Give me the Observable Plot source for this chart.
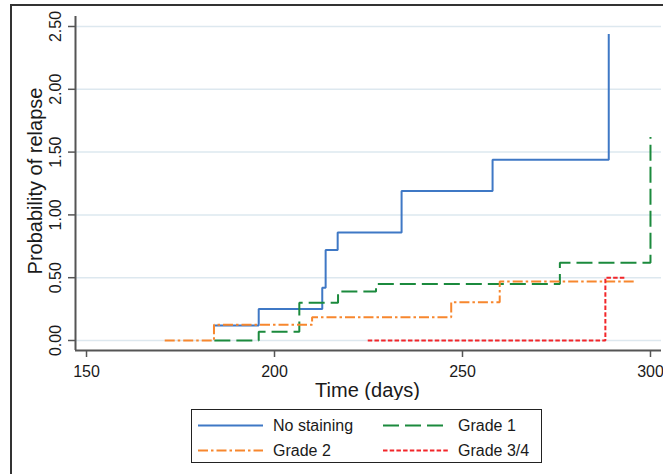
<!DOCTYPE html>
<html>
<head>
<meta charset="utf-8">
<script src="https://cdn.jsdelivr.net/npm/d3@7"></script>
<script src="https://cdn.jsdelivr.net/npm/@observablehq/plot@0.6"></script>
<style>
  html, body { margin: 0; padding: 0; background: #fff; }
  #wrap { position: relative; width: 663px; height: 474px; overflow: hidden; font-family: "Liberation Sans", Arial, sans-serif; }
  #frame { position: absolute; left: 10px; top: 4px; right: -10px; bottom: -10px; border-top: 2px solid #333; border-left: 2px solid #333; pointer-events: none; }
  #legend { position: absolute; left: 191px; top: 409px; width: 351px; height: 54px; border: 1.5px solid #222; box-sizing: border-box; background: #fff; }
</style>
</head>
<body>
<div id="wrap">
  <div id="chart"></div>
  <div id="legend"></div>
  <div id="frame"></div>
</div>
<script>
// ---- data ----
const series = ["No staining", "Grade 1", "Grade 2", "Grade 3/4"];
const colors = ["#3f78c5", "#1b8a3d", "#f7872e", "#f2262a"];
const dashes = ["none", "16,6", "10,3,2.5,3", "4.5,2.2"];

const noStainTime = [184, 195.8, 212.7, 213.6, 216.8, 233.8, 258, 288.9];
const noStainProb = [0.12, 0.25, 0.42, 0.72, 0.86, 1.19, 1.44, 2.44];
const grade1Time = [184, 195.8, 206.6, 216.9, 227, 275.9, 300];
const grade1Prob = [0, 0.07, 0.30, 0.39, 0.45, 0.62, 1.62];
const grade2Time = [170.8, 183.9, 210, 247, 259.9, 296];
const grade2Prob = [0, 0.125, 0.185, 0.305, 0.47, 0.47];
const grade34Time = [224.8, 288, 293.4];
const grade34Prob = [0, 0.50, 0.50];

const xTicks = [150, 200, 250, 300];
const yTicks = [0, 0.5, 1, 1.5, 2, 2.5];
const xDomain = [147.07, 302.93];
const yDomain = [-0.0796, 2.5796];

const times = [noStainTime, grade1Time, grade2Time, grade34Time];
const probs = [noStainProb, grade1Prob, grade2Prob, grade34Prob];
const seriesData = series.map((s, i) => times[i].map((t, j) => ({series: s, time: t, prob: probs[i][j]})));

const axisColor = "#555";
const textColor = "#1a1a1a";

const chart = Plot.plot({
  width: 663,
  height: 400,
  marginLeft: 75,
  marginRight: 2,
  marginTop: 16,
  marginBottom: 50,
  style: {fontFamily: "'Liberation Sans', Arial, sans-serif", fontSize: "16px", background: "transparent", color: textColor},
  x: {domain: xDomain, label: null},
  y: {domain: yDomain, label: null},
  marks: [
    Plot.gridY(yTicks, {stroke: "#dde8ef", strokeOpacity: 1, strokeWidth: 1.5}),
    Plot.ruleX([xDomain[0]], {stroke: axisColor, strokeWidth: 2}),
    Plot.ruleY([yDomain[0]], {stroke: axisColor, strokeWidth: 2}),
    Plot.axisX(xTicks, {tickSize: 7, tickPadding: 8.6, stroke: axisColor, strokeWidth: 1.5, fill: textColor, fontSize: 16, label: null}),
    Plot.axisY(yTicks, {tickSize: 7, stroke: axisColor, strokeWidth: 1.5, fill: "none", label: null}),
    Plot.text(yTicks, {y: d => d, text: d => d3.format(".2f")(d), frameAnchor: "left", rotate: -90, textAnchor: "middle", lineAnchor: "bottom", dx: -15, fontSize: 16, fill: textColor}),
    Plot.text(["Probability of relapse"], {text: d => d, frameAnchor: "left", rotate: -90, textAnchor: "middle", lineAnchor: "bottom", dx: -34, dy: -2.5, fontSize: 20, fill: textColor}),
    Plot.text(["Time (days)"], {text: d => d, frameAnchor: "bottom", textAnchor: "middle", lineAnchor: "bottom", dy: 46, dx: -1, fontSize: 20, fill: textColor}),
    ...seriesData.map((d, i) => Plot.line(d, {
      x: "time", y: "prob", curve: "step-after",
      stroke: colors[i], strokeWidth: 2, strokeDasharray: dashes[i],
      strokeLinecap: "butt", strokeLinejoin: "miter"
    }))
  ]
});
document.getElementById("chart").appendChild(chart);

// ---- legend ----
const lg = d3.select("#legend").append("svg").attr("width", 348).attr("height", 51)
  .style("position", "absolute").style("left", "0px").style("top", "0px");
series.forEach((s, i) => {
  const col = i % 2, row = Math.floor(i / 2);
  const x0 = col === 0 ? 6 : 191;
  const y0 = 15.5 + row * 25;
  lg.append("line").attr("x1", x0).attr("x2", x0 + 65).attr("y1", y0).attr("y2", y0)
    .attr("stroke", colors[i]).attr("stroke-width", 2).attr("stroke-dasharray", dashes[i]);
  lg.append("text").attr("x", x0 + 75).attr("y", y0).attr("dy", "0.35em")
    .attr("font-size", 16).attr("fill", textColor)
    .attr("font-family", "'Liberation Sans', Arial, sans-serif").text(s);
});
</script>
</body>
</html>
